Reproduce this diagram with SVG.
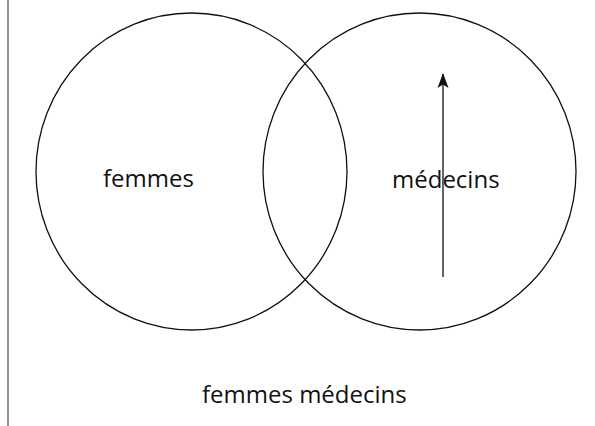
<svg xmlns="http://www.w3.org/2000/svg" width="595" height="426" viewBox="0 0 595 426">
<style>
.c{fill:none;stroke:#111;stroke-width:1.3}
.t{font-family:"Open Sans","Liberation Sans",sans-serif;font-size:24px;fill:#111}
</style>
<defs>
<marker id="ah" markerWidth="16" markerHeight="12" refX="14" refY="6" orient="auto" markerUnits="userSpaceOnUse" viewBox="0 0 16 12">
<path d="M15,6 L0,0.5 L3.5,6 L0,11.5 Z" fill="#111"/>
</marker>
</defs>
<rect width="595" height="426" fill="#fff"/>
<line x1="8" y1="0" x2="8" y2="426" stroke="#777" stroke-width="1.6"/>
<g id="femmes">
<ellipse class="c" cx="191.5" cy="171.5" rx="155.5" ry="158.5"/>
<text class="t" x="103" y="187">femmes</text>
</g>
<g id="medecins">
<ellipse class="c" cx="419.5" cy="171.5" rx="156.5" ry="158.5"/>
<text class="t" x="392" y="188">médecins</text>
</g>
<g id="label">
<text class="t" x="202" y="403">femmes médecins</text>
</g>
<g id="connectors">
<line x1="443" y1="277" x2="443" y2="74" stroke="#111" stroke-width="1.3" marker-end="url(#ah)"/>
</g>
</svg>
